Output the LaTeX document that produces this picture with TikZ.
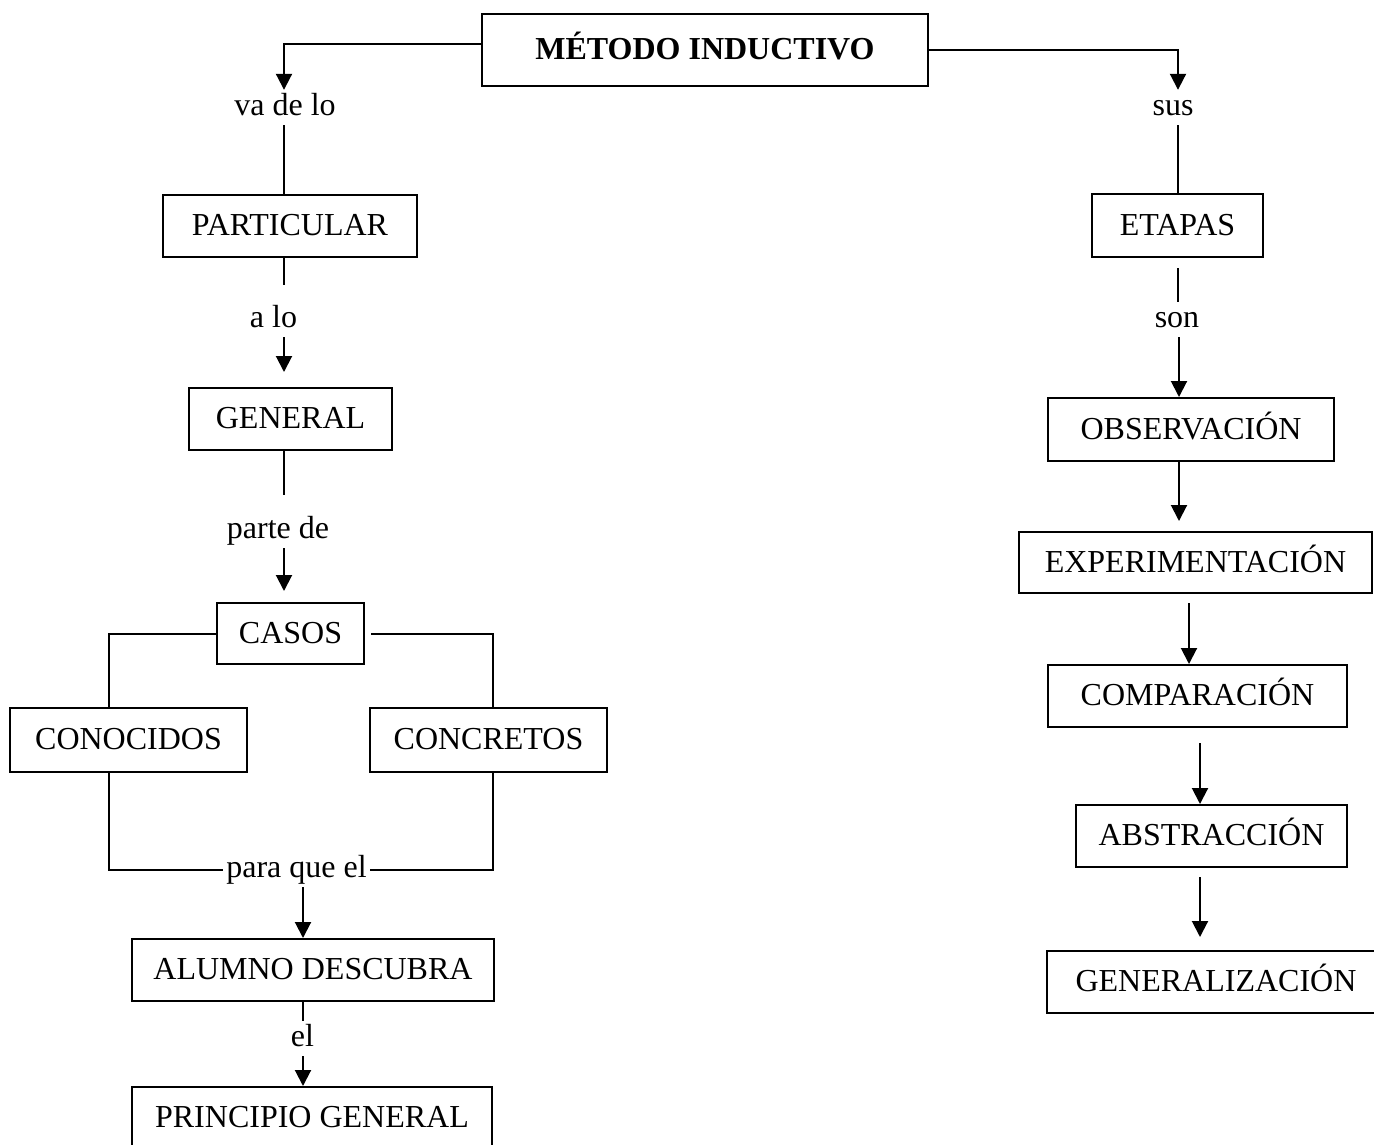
\documentclass[tikz,border=0pt]{standalone}
\usepackage{fontspec}
\setmainfont{Liberation Serif}
\usetikzlibrary{arrows.meta}

\begin{document}
\begin{tikzpicture}[
  x=1pt, y=-1pt,
  every node/.append style={font=\fontsize{32pt}{38pt}\selectfont},
  concept/.style={draw, line width=2pt, inner sep=0pt,
    text height=24pt, text depth=5pt},
  linkword/.style={inner ysep=8pt, inner xsep=3pt,
    text height=17pt, text depth=2pt},
  link/.style={line width=2pt},
  arr/.style={line width=2pt, -{Triangle[width=16pt,length=16pt]}}
]
\useasboundingbox (0,0) rectangle (1374,1144);

% columns used by the vertical connectors
\coordinate (xL) at (284,0);
\coordinate (xK) at (109,0);
\coordinate (xC) at (493,0);
\coordinate (xD) at (303,0);
\coordinate (xR) at (1178,0);
\coordinate (xA) at (1179,0);
\coordinate (xB) at (1189,0);
\coordinate (xE) at (1200,0);

% concepts
\node[concept, minimum width=446, minimum height=72, font=\fontsize{32pt}{38pt}\selectfont\bfseries] (main) at (705,50) {MÉTODO INDUCTIVO};

\node[concept, minimum width=254, minimum height=62] (particular) at (290,226) {PARTICULAR};
\node[concept, minimum width=203, minimum height=62] (general) at (290.5,419) {GENERAL};
\node[concept, minimum width=147, minimum height=61] (casos) at (290.5,633.5) {CASOS};
\node[concept, minimum width=237, minimum height=64] (conoc) at (128.5,740) {CONOCIDOS};
\node[concept, minimum width=237, minimum height=64] (concr) at (488.5,740) {CONCRETOS};
\node[concept, minimum width=362, minimum height=62] (alumno) at (313,970) {ALUMNO DESCUBRA};
\node[concept, minimum width=360, minimum height=62] (principio) at (312,1118) {PRINCIPIO GENERAL};

\node[concept, minimum width=171, minimum height=63] (etapas) at (1177.5,225.5) {ETAPAS};
\node[concept, minimum width=286, minimum height=63] (obs) at (1191,429.5) {OBSERVACIÓN};
\node[concept, minimum width=353, minimum height=61] (exper) at (1195.5,562.5) {EXPERIMENTACIÓN};
\node[concept, minimum width=299, minimum height=62] (comp) at (1197.5,696) {COMPARACIÓN};
\node[concept, minimum width=271, minimum height=62] (abstr) at (1211.5,836) {ABSTRACCIÓN};
\node[concept, minimum width=338, minimum height=62] (gener) at (1216,982) {GENERALIZACIÓN};

% linking words
\node[linkword] (vadelo) at (285,107.5) {va de lo};
\node[linkword] (alo) at (273.5,319.5) {a lo};
\node[linkword] (partede) at (278,530.5) {parte de};
\node[linkword] (para) at (296.5,869.5) {para que el};
\node[linkword] (el) at (302.5,1038.5) {el};
\node[linkword] (sus) at (1173,107.5) {sus};
\node[linkword] (son) at (1177,319.5) {son};

% left branch
\draw[arr] ([yshift=6pt]main.west) -| (vadelo.north -| xL);
\draw[link] (vadelo.south -| xL) -- (particular.north -| xL);
\draw[link, shorten >=17pt] (particular.south -| xL) -- (alo.north -| xL);
\draw[arr, shorten >=15pt] (alo.south -| xL) -- (general.north -| xL);
\draw[link, shorten >=18pt] (general.south -| xL) -- (partede.north -| xL);
\draw[arr, shorten >=11pt] (partede.south -| xL) -- (casos.north -| xL);

\draw[link] (casos.west) -| (conoc.north -| xK);
\draw[link, shorten <=6pt] (casos.east) -| (concr.north -| xC);
\draw[link] (conoc.south -| xK) |- (para.west);
\draw[link] (concr.south -| xC) |- (para.east);

\draw[arr] (para.south -| xD) -- (alumno.north -| xD);
\draw[link] (alumno.south -| xD) -- (el.north -| xD);
\draw[arr] (el.south -| xD) -- (principio.north -| xD);

% right branch
\draw[arr] (main.east) -| (sus.north -| xR);
\draw[link] (sus.south -| xR) -- (etapas.north -| xR);
\draw[link, shorten <=10pt] (etapas.south -| xR) -- (son.north -| xR);
\draw[arr] (son.south -| xA) -- (obs.north -| xA);
\draw[arr, shorten >=10pt] (obs.south -| xA) -- (exper.north -| xA);
\draw[arr, shorten <=9pt] (exper.south -| xB) -- (comp.north -| xB);
\draw[arr, shorten <=15pt] (comp.south -| xE) -- (abstr.north -| xE);
\draw[arr, shorten <=9pt, shorten >=13pt] (abstr.south -| xE) -- (gener.north -| xE);
\end{tikzpicture}
\end{document}
